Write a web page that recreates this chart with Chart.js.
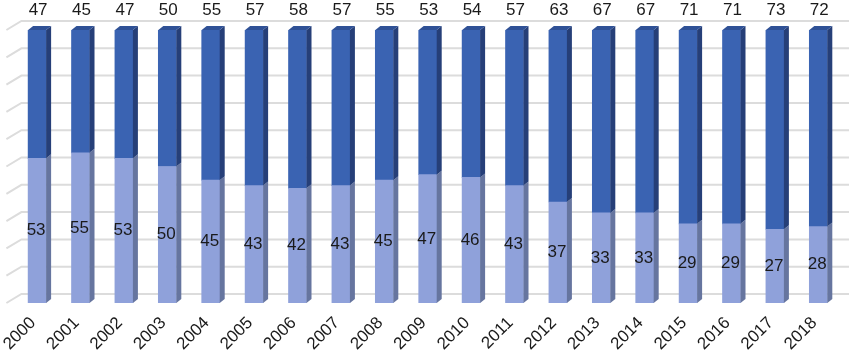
<!doctype html>
<html lang="en">
  <head>
    <meta charset="utf-8">
    <title>Stacked share chart</title>
    <script src="https://cdn.jsdelivr.net/npm/chart.js@4.4.1/dist/chart.umd.min.js"></script>
    <style>
      html, body { margin: 0; padding: 0; background: #ffffff; }
      #wrap { width: 856px; height: 354px; position: relative; }
    </style>
  </head>
  <body>
    <div id="wrap"><canvas id="myChart"></canvas></div>
    <script>
      const years = ['2000', '2001', '2002', '2003', '2004', '2005', '2006', '2007', '2008', '2009',
                     '2010', '2011', '2012', '2013', '2014', '2015', '2016', '2017', '2018'];
      const lowerShare = [53, 55, 53, 50, 45, 43, 42, 43, 45, 47, 46, 43, 37, 33, 33, 29, 29, 27, 28];
      const upperShare = [47, 45, 47, 50, 55, 57, 58, 57, 55, 53, 54, 57, 63, 67, 67, 71, 71, 73, 72];
      const gridTicks = [0, 10, 20, 30, 40, 50, 60, 70, 80, 90, 100];

      const FONT = "'Liberation Sans', Arial, sans-serif";
      const DX = 15, DY = 9;       // depth of the back wall
      const BDX = 5, BDY = 4;      // depth of each bar

      // back wall gridlines + left wall diagonals
      const wallPlugin = {
        id: 'wall',
        beforeDatasetsDraw(chart) {
          const { ctx, chartArea, scales } = chart;
          ctx.save();
          ctx.strokeStyle = '#dcdcdc';
          ctx.lineWidth = 2;
          gridTicks.forEach(v => {
            const y = scales.y.getPixelForValue(v);
            const left = chartArea.left - 9;
            ctx.beginPath();
            ctx.moveTo(left, y);
            ctx.lineTo(left + DX, y - DY);
            ctx.lineTo(chartArea.right + 9, y - DY);
            ctx.stroke();
          });
          ctx.restore();
        }
      };

      function shade(ctx, pts, color) {
        ctx.fillStyle = color;
        ctx.beginPath();
        ctx.moveTo(pts[0][0], pts[0][1]);
        for (let i = 1; i < pts.length; i++) ctx.lineTo(pts[i][0], pts[i][1]);
        ctx.closePath();
        ctx.fill();
      }

      // side and top faces of the bars, then value labels
      const depthPlugin = {
        id: 'depth',
        afterDatasetsDraw(chart) {
          const { ctx } = chart;
          ctx.save();
          chart.data.datasets.forEach((ds, di) => {
            const meta = chart.getDatasetMeta(di);
            meta.data.forEach(bar => {
              const r = bar.x + bar.width / 2;
              const l = bar.x - bar.width / 2;
              shade(ctx, [[r, bar.y], [r + BDX, bar.y - BDY], [r + BDX, bar.base - BDY], [r, bar.base]], ds.sideColor);
              if (di === chart.data.datasets.length - 1) {
                shade(ctx, [[l, bar.y], [l + BDX, bar.y - BDY], [r + BDX, bar.y - BDY], [r, bar.y]], ds.topColor);
              }
            });
          });

          ctx.font = '17px ' + FONT;
          ctx.fillStyle = '#1a1a1a';
          ctx.textAlign = 'center';
          ctx.textBaseline = 'middle';
          chart.getDatasetMeta(0).data.forEach((bar, i) => {
            ctx.fillText(lowerShare[i], bar.x - 1, (bar.y + bar.base) / 2);
          });
          chart.getDatasetMeta(1).data.forEach((bar, i) => {
            ctx.fillText(upperShare[i], bar.x + 1, 10);
          });
          ctx.restore();
        }
      };

      const ctx = document.getElementById('myChart').getContext('2d');
      const myChart = new Chart(ctx, {
        type: 'bar',
        data: {
          labels: years,
          datasets: [{
            data: lowerShare,
            backgroundColor: '#8fa1da',
            sideColor: '#66759f',
            barThickness: 18
          }, {
            data: upperShare,
            backgroundColor: '#3a63b2',
            sideColor: '#263f78',
            topColor: '#2f5196',
            barThickness: 18
          }]
        },
        options: {
          responsive: true,
          maintainAspectRatio: false,
          animation: false,
          layout: { padding: { top: 30, left: 14, right: 16, bottom: 0 } },
          plugins: { legend: { display: false }, tooltip: { enabled: false } },
          scales: {
            x: {
              stacked: true,
              grid: { display: false, drawTicks: false },
              border: { display: false },
              ticks: {
                autoSkip: false,
                minRotation: 45,
                maxRotation: 45,
                padding: 10,
                labelOffset: -4,
                color: '#1a1a1a',
                font: { family: FONT, size: 17 }
              },
              afterFit(scale) { scale.height = 51; }
            },
            y: {
              stacked: true,
              display: false,
              min: 0,
              max: 100
            }
          }
        },
        plugins: [wallPlugin, depthPlugin]
      });
    </script>
  </body>
</html>
